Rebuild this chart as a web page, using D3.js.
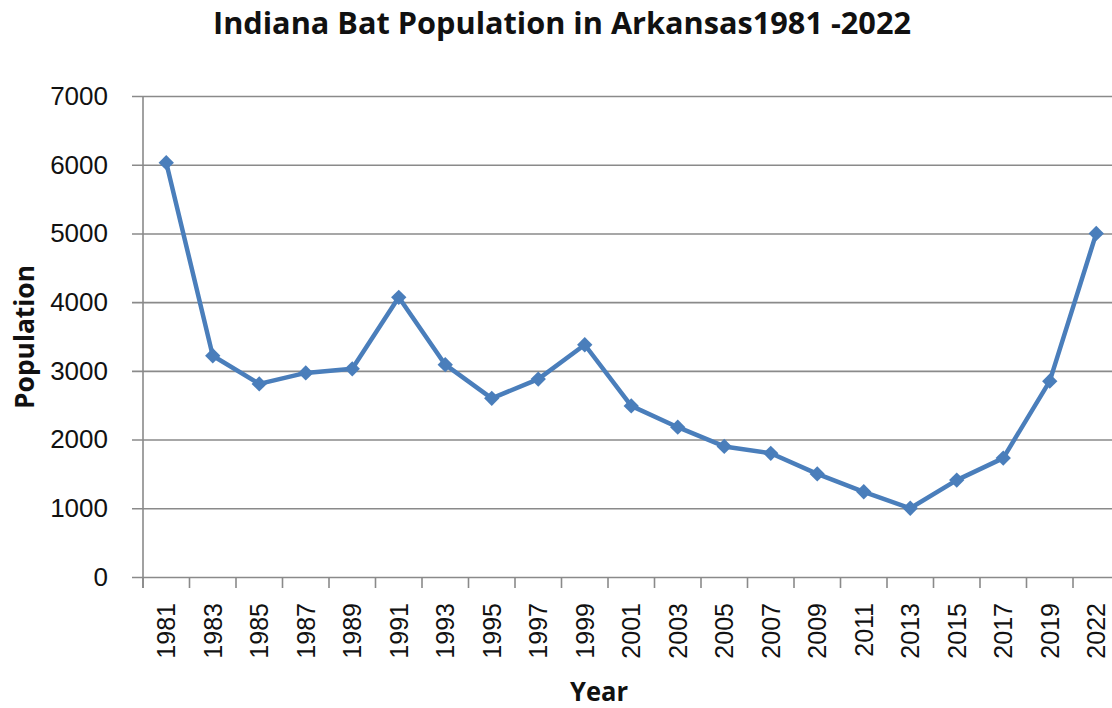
<!DOCTYPE html>
<html lang="en">
<head>
    <meta charset="UTF-8">
    <title>Indiana Bat Population in Arkansas</title>
    <style>
        body { margin: 0; background: #fff; }
        svg { display: block; }
    </style>
</head>
<body>
<div id="chart"></div>
<script src="https://cdn.jsdelivr.net/npm/d3@7"></script>
<script>
    let years = ['1981', '1983', '1985', '1987', '1989', '1991', '1993', '1995', '1997', '1999',
        '2001', '2003', '2005', '2007', '2009', '2011', '2013', '2015', '2017', '2019', '2022']
    let population = [6030, 3220, 2810, 2970, 3030, 4070, 3090, 2600, 2880, 3380,
        2490, 2180, 1900, 1800, 1500, 1240, 1000, 1410, 1730, 2850, 5000]
    let yTicks = [0, 1000, 2000, 3000, 4000, 5000, 6000, 7000]

    let width = 1112, height = 708
    let plotLeft = 143, plotTop = 96, plotBottom = 577
    let bandW = 46.5
    let blue = '#4a7ebb', grid = '#8a8a8a'

    let svg = d3.select('#chart').append('svg')
        .attr('width', width)
        .attr('height', height)

    let x = d3.scaleBand()
        .domain(years)
        .range([plotLeft, plotLeft + bandW * years.length])
        .paddingInner(0).paddingOuter(0)

    let y = d3.scaleLinear()
        .domain([0, 7000])
        .range([plotBottom, plotTop])

    // horizontal gridlines + y ticks
    let yAxis = d3.axisLeft(y)
        .tickValues(yTicks)
        .tickSize(-(width - plotLeft))
        .tickPadding(24)
        .tickFormat(d => d)
    let gy = svg.append('g')
        .attr('transform', `translate(${plotLeft},0)`)
        .call(yAxis)
    gy.select('.domain').remove()
    gy.selectAll('.tick line')
        .attr('x1', -11)
        .attr('stroke', grid)
        .attr('stroke-width', 1.6)
    gy.selectAll('.tick text')
        .attr('x', -35)
        .style('font-family', 'Liberation Sans, Arial, sans-serif')
        .style('font-size', '26px')
        .attr('fill', '#111')

    // vertical axis line
    svg.append('line')
        .attr('x1', plotLeft).attr('x2', plotLeft)
        .attr('y1', plotTop).attr('y2', plotBottom + 11)
        .attr('stroke', grid)
        .attr('stroke-width', 1.6)

    // x axis with tick marks at band edges
    let gx = svg.append('g')
        .attr('transform', `translate(0,${plotBottom})`)
    gx.selectAll('line.tk')
        .data(years)
        .enter()
        .append('line')
        .attr('class', 'tk')
        .attr('x1', d => x(d)).attr('x2', d => x(d))
        .attr('y1', 0).attr('y2', 11)
        .attr('stroke', grid)
        .attr('stroke-width', 1.6)
    gx.selectAll('text')
        .data(years)
        .enter()
        .append('text')
        .attr('transform', d => `translate(${x(d) + x.bandwidth() / 2 + 9},26) rotate(-90)`)
        .attr('text-anchor', 'end')
        .style('font-family', 'Liberation Sans, Arial, sans-serif')
        .style('font-size', '25px')
        .attr('fill', '#111')
        .text(d => d)

    // line
    let line = d3.line()
        .x((d, i) => x(years[i]) + x.bandwidth() / 2)
        .y(d => y(d))
    svg.append('path')
        .datum(population)
        .attr('d', line)
        .attr('fill', 'none')
        .attr('stroke', blue)
        .attr('stroke-width', 4.5)
        .attr('stroke-linejoin', 'round')

    // diamond markers
    svg.selectAll('path.mk')
        .data(population)
        .enter()
        .append('path')
        .attr('class', 'mk')
        .attr('d', d3.symbol().type(d3.symbolDiamond2).size(150))
        .attr('transform', (d, i) => `translate(${x(years[i]) + x.bandwidth() / 2},${y(d)})`)
        .attr('fill', blue)

    // title
    svg.append('text')
        .attr('x', 562)
        .attr('y', 34)
        .attr('text-anchor', 'middle')
        .attr('textLength', 698)
        .attr('lengthAdjust', 'spacingAndGlyphs')
        .style('font-family', 'Open Sans, Liberation Sans, sans-serif')
        .style('font-weight', 'bold')
        .style('font-size', '30px')
        .attr('fill', '#111')
        .text('Indiana Bat Population in Arkansas1981 -2022')

    // axis titles
    svg.append('text')
        .attr('transform', 'translate(34,337) rotate(-90)')
        .attr('text-anchor', 'middle')
        .attr('textLength', 144)
        .attr('lengthAdjust', 'spacingAndGlyphs')
        .style('font-family', 'Open Sans, Liberation Sans, sans-serif')
        .style('font-weight', 'bold')
        .style('font-size', '26px')
        .attr('fill', '#111')
        .text('Population')

    svg.append('text')
        .attr('x', 599)
        .attr('y', 701)
        .attr('text-anchor', 'middle')
        .attr('textLength', 58)
        .attr('lengthAdjust', 'spacingAndGlyphs')
        .style('font-family', 'Open Sans, Liberation Sans, sans-serif')
        .style('font-weight', 'bold')
        .style('font-size', '26px')
        .attr('fill', '#111')
        .text('Year')
</script>
</body>
</html>
